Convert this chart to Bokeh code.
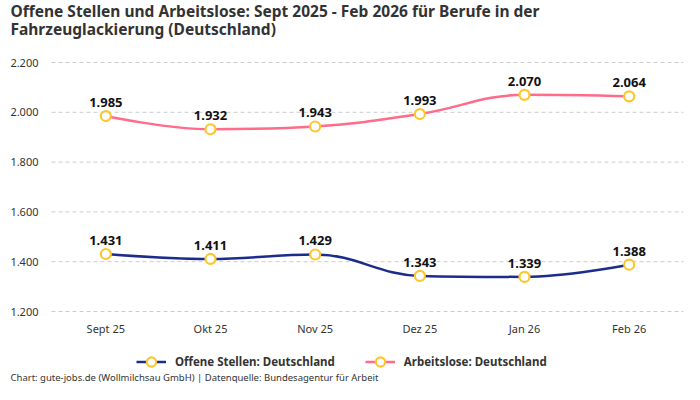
from bokeh.plotting import figure
from bokeh.models import (ColumnDataSource, Legend, LegendItem, Label, FixedTicker,
                          Range1d, LabelSet, LinearAxis)
from bokeh.core.properties import value
from bokeh.embed import file_html
from bokeh.resources import INLINE

# ---- data ----
months = ["Sept 25", "Okt 25", "Nov 25", "Dez 25", "Jan 26", "Feb 26"]
offene_stellen = [1431, 1411, 1429, 1343, 1339, 1388]
arbeitslose = [1985, 1932, 1943, 1993, 2070, 2064]
y_ticks = [1200, 1400, 1600, 1800, 2000, 2200]
y_tick_labels = ["1.200", "1.400", "1.600", "1.800", "2.000", "2.200"]

title_line1 = "Offene Stellen und Arbeitslose: Sept 2025 - Feb 2026 für Berufe in der"
title_line2 = "Fahrzeuglackierung (Deutschland)"
footer = "Chart: gute-jobs.de (Wollmilchsau GmbH) | Datenquelle: Bundesagentur für Arbeit"
series_names = ["Offene Stellen: Deutschland", "Arbeitslose: Deutschland"]

NAVY = "#1c2c8c"
PINK = "#ff6b88"
YELLOW = "#fcc72c"
TEXT = "#333333"
FONT = "Noto Sans"

# ---- layout (pixels) ----
W, H = 684, 384
PL, PR = 53, 681      # plot area left/right
PT, PB = 62, 311      # plot area top/bottom
GRID_L, GRID_R = 51, 683

ncat = len(months)
xs = list(range(ncat))
ppx = (PR - PL) / ncat
x0 = -0.5 - PL / ppx
x1 = ncat - 0.5 + (W - PR) / ppx
ymin, ymax = y_ticks[0], y_ticks[-1]
ppy = (PB - PT) / (ymax - ymin)
y0 = ymin - (H - PB) / ppy
y1 = ymax + PT / ppy


def px_to_x(px):
    return x0 + px / ppx


def fmt(v):
    return f"{v:,}".replace(",", ".")


def spline_segments(xs, ys, smoothing=1.5):
    """Highcharts-style spline control points -> bezier segments."""
    n = len(xs)
    lc = [(x, y) for x, y in zip(xs, ys)]
    rc = [(x, y) for x, y in zip(xs, ys)]
    denom = smoothing + 1
    for i in range(1, n - 1):
        px, py = xs[i], ys[i]
        lx, ly = xs[i - 1], ys[i - 1]
        nx, ny = xs[i + 1], ys[i + 1]
        lcx = (smoothing * px + lx) / denom
        lcy = (smoothing * py + ly) / denom
        rcx = (smoothing * px + nx) / denom
        rcy = (smoothing * py + ny) / denom
        if rcx != lcx:
            corr = ((rcy - lcy) * (rcx - px)) / (rcx - lcx) + py - rcy
            lcy += corr
            rcy += corr
        if lcy > ly and lcy > py:
            lcy = max(ly, py); rcy = 2 * py - lcy
        elif lcy < ly and lcy < py:
            lcy = min(ly, py); rcy = 2 * py - lcy
        if rcy > ny and rcy > py:
            rcy = max(ny, py); lcy = 2 * py - rcy
        elif rcy < ny and rcy < py:
            rcy = min(ny, py); lcy = 2 * py - rcy
        lc[i] = (lcx, lcy)
        rc[i] = (rcx, rcy)
    seg = dict(x0=[], y0=[], x1=[], y1=[], cx0=[], cy0=[], cx1=[], cy1=[])
    for i in range(n - 1):
        seg["x0"].append(xs[i]); seg["y0"].append(ys[i])
        seg["x1"].append(xs[i + 1]); seg["y1"].append(ys[i + 1])
        seg["cx0"].append(rc[i][0]); seg["cy0"].append(rc[i][1])
        seg["cx1"].append(lc[i + 1][0]); seg["cy1"].append(lc[i + 1][1])
    return seg


p = figure(width=W, height=H, output_backend="svg", toolbar_location=None,
           x_range=Range1d(x0, x1), y_range=Range1d(y0, y1),
           x_axis_location=None, y_axis_location=None,
           min_border_left=0, min_border_right=0, min_border_top=0, min_border_bottom=0)
p.outline_line_color = None
p.background_fill_color = "white"
p.border_fill_color = "white"
p.xgrid.visible = False
p.ygrid.visible = False

# axes at fixed locations inside the frame
xaxis = LinearAxis(fixed_location=ymin, ticker=FixedTicker(ticks=xs),
                   major_label_overrides={i: m for i, m in enumerate(months)})
yaxis = LinearAxis(fixed_location=px_to_x(GRID_L), ticker=FixedTicker(ticks=y_ticks),
                   major_label_overrides={t: l for t, l in zip(y_ticks, y_tick_labels)})
for ax in (xaxis, yaxis):
    ax.axis_line_color = None
    ax.major_tick_line_color = None
    ax.minor_tick_line_color = None
    ax.major_label_text_font = FONT
    ax.major_label_text_font_size = "11px"
    ax.major_label_text_color = TEXT
xaxis.major_label_standoff = 3
yaxis.major_label_standoff = 7
p.add_layout(xaxis, "below")
p.add_layout(yaxis, "left")

# dashed horizontal grid lines
p.segment(x0=[px_to_x(GRID_L)] * len(y_ticks), x1=[px_to_x(GRID_R)] * len(y_ticks),
          y0=y_ticks, y1=y_ticks, line_color="#cccccc", line_dash="4 3", line_width=1)

nan = float("nan")
legend_items = []
for vals, color, name in [(offene_stellen, NAVY, series_names[0]),
                          (arbeitslose, PINK, series_names[1])]:
    seg = spline_segments(xs, vals)
    p.bezier(x0="x0", y0="y0", x1="x1", y1="y1", cx0="cx0", cy0="cy0", cx1="cx1", cy1="cy1",
             source=ColumnDataSource(seg), line_color=color, line_width=2.5)
    src = ColumnDataSource(dict(x=xs, y=vals, label=[fmt(v) for v in vals]))
    p.scatter("x", "y", source=src, size=10, fill_color="white",
              line_color=YELLOW, line_width=2.2)
    labels = LabelSet(x="x", y="y", text="label", source=src, text_align="center",
                      text_baseline="bottom", y_offset=9, text_font=value(FONT),
                      text_font_size=value("13px"), text_font_style="bold",
                      text_color="#111111")
    p.add_layout(labels)
    # legend proxies (not drawn on the plot)
    proxy_line = p.line(x=[nan, nan], y=[nan, nan], line_color=color, line_width=2.5)
    proxy_mk = p.scatter(x=[nan], y=[nan], size=10, fill_color="white", line_color=YELLOW,
                         line_width=2.2)
    legend_items.append(LegendItem(label=name, renderers=[proxy_line, proxy_mk]))

legend = Legend(items=legend_items, orientation="horizontal", location=(136, 11),
                label_text_font=FONT, label_text_font_size="11.5px",
                label_text_font_style="bold", label_text_color=TEXT,
                glyph_width=30, glyph_height=23, spacing=30, border_line_color=None,
                background_fill_alpha=0, margin=0, padding=2, label_standoff=9,
                label_height=23)
p.add_layout(legend, "center")

# title (two lines) and footer
p.add_layout(Label(x=10, y=H - 10, x_units="screen", y_units="screen", text=title_line1,
                   text_font=FONT, text_font_size="15.5px", text_font_style="bold",
                   text_color=TEXT, text_baseline="middle"))
p.add_layout(Label(x=10, y=H - 28, x_units="screen", y_units="screen", text=title_line2,
                   text_font=FONT, text_font_size="15.5px", text_font_style="bold",
                   text_color=TEXT, text_baseline="middle"))
p.add_layout(Label(x=10, y=7, x_units="screen", y_units="screen", text=footer,
                   text_font=FONT, text_font_size="9.5px", text_color=TEXT,
                   text_baseline="middle"))

open("out.html", "w").write(file_html(p, INLINE))
